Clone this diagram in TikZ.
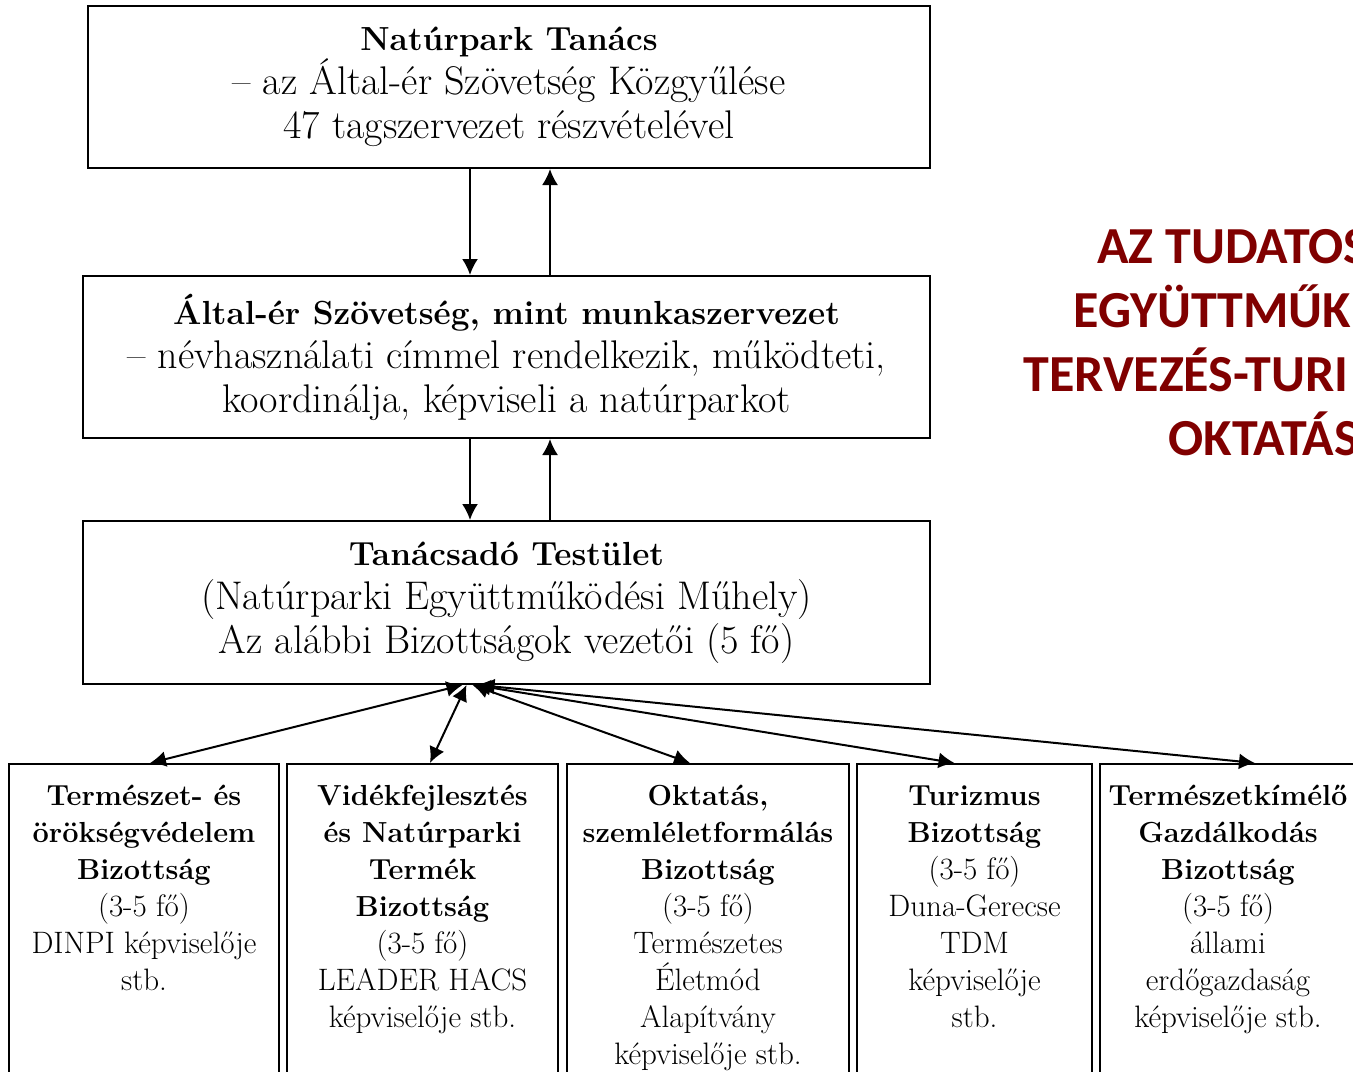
\documentclass[tikz,border=0pt]{standalone}
\usepackage{fontspec}
\usetikzlibrary{arrows.meta}
\newfontfamily\calibri{Carlito}
\definecolor{sotetpiros}{RGB}{128,0,0}
\newcommand{\nagy}{\fontsize{20}{22}\selectfont}
\newcommand{\kicsi}{\fontsize{15.5}{18.5}\selectfont}
\newcommand{\fejlec}[1]{{\fontsize{16.7}{22}\selectfont\bfseries #1}}
\newcommand{\bizcim}[1]{{\fontsize{14.5}{18.5}\selectfont\bfseries #1}}

\begin{document}
\begin{tikzpicture}[x=0.5pt, y=-0.5pt,
  box/.style={draw, line width=1pt, align=center, inner sep=0pt, font=\nagy},
  bizbox/.style={draw, line width=1pt, anchor=north, minimum height=200pt},
  biztext/.style={anchor=north, align=center, inner sep=0pt, font=\kicsi},
  nyil/.style={line width=1pt, -{Latex[length=8pt,width=8pt]}},
  kettos/.style={line width=1pt, {Latex[length=8pt,width=8pt]}-{Latex[length=8pt,width=8pt]}},
  cim/.style={anchor=base west, inner sep=0pt, text=sotetpiros,
    font=\calibri\bfseries\fontsize{26}{30}\selectfont}
  ]
  \useasboundingbox (0,0) rectangle (1353,1071);

  \node[box, minimum width=421pt, minimum height=81pt] (tanacs) at (509,87)
    {\fejlec{Natúrpark Tanács}\\– az Által-ér Szövetség Közgyűlése\\47 tagszervezet részvételével};
  \node[box, minimum width=423.5pt, minimum height=81pt] (szov) at (506.5,357)
    {\fejlec{Által-ér Szövetség, mint munkaszervezet}\\– névhasználati címmel rendelkezik, működteti,\\koordinálja, képviseli a natúrparkot};
  \node[box, minimum width=423.5pt, minimum height=81.5pt] (testulet) at (506.5,602.5)
    {\fejlec{Tanácsadó Testület}\\(Natúrparki Együttműködési Műhely)\\Az alábbi Bizottságok vezetői (5 fő)};

  \coordinate (le) at (470,0);
  \coordinate (fel) at (550,0);
  \draw[nyil] (tanacs.south -| le) -- (szov.north -| le);
  \draw[nyil] (szov.north -| fel) -- (tanacs.south -| fel);
  \draw[nyil] (szov.south -| le) -- (testulet.north -| le);
  \draw[nyil] (testulet.north -| fel) -- (szov.south -| fel);

  % bizottsagok
  \node[bizbox, minimum width=135pt] (b1) at (144,763) {};
  \node[bizbox, minimum width=135.5pt] (b2) at (422.5,763) {};
  \node[bizbox, minimum width=141pt] (b3) at (708,763) {};
  \node[bizbox, minimum width=117.5pt] (b4) at (974.5,763) {};
  \node[bizbox, minimum width=128pt] (b5) at (1228,763) {};

  \node[biztext] (b1t) at ([yshift=-11pt]b1.north)
    {\bizcim{Természet- és}\\\bizcim{örökségvédelem}\\\bizcim{Bizottság}\\(3-5 fő)\\DINPI képviselője\\stb.};
  \node[biztext] (b2t) at ([yshift=-11pt]b2.north)
    {\bizcim{Vidékfejlesztés}\\\bizcim{és Natúrparki}\\\bizcim{Termék}\\\bizcim{Bizottság}\\(3-5 fő)\\LEADER HACS\\képviselője stb.};
  \node[biztext] (b3t) at ([yshift=-11pt]b3.north)
    {\bizcim{Oktatás,}\\\bizcim{szemléletformálás}\\\bizcim{Bizottság}\\(3-5 fő)\\Természetes\\Életmód\\Alapítvány\\képviselője stb.};
  \node[biztext] (b4t) at ([yshift=-11pt]b4.north)
    {\bizcim{Turizmus}\\\bizcim{Bizottság}\\(3-5 fő)\\Duna-Gerecse\\TDM\\képviselője\\stb.};
  \node[biztext] (b5t) at ([yshift=-11pt]b5.north)
    {\bizcim{Természetkímélő}\\\bizcim{Gazdálkodás}\\\bizcim{Bizottság}\\(3-5 fő)\\állami\\erdőgazdaság\\képviselője stb.};

  \draw[kettos] ([xshift=-22pt]testulet.south) -- ([xshift=3pt]b1.north);
  \draw[kettos] ([xshift=-20pt]testulet.south) -- ([xshift=3.75pt]b2.north);
  \draw[kettos] ([xshift=-17pt]testulet.south) -- ([xshift=-9pt]b3.north);
  \draw[kettos] ([xshift=-16pt]testulet.south) -- ([xshift=-10pt]b4.north);
  \draw[kettos] ([xshift=-14pt]testulet.south) -- ([xshift=13.5pt]b5.north);

  \node[cim] (sor1) at (1097,263) {AZ TUDATOS};
  \node[cim] (sor2) at (1073,327) {EGYÜTTMŰK};
  \node[cim] (sor3) at (1023,391) {TERVEZÉS-TURI};
  \node[cim] (sor4) at (1168,455) {OKTATÁS};
\end{tikzpicture}
\end{document}
